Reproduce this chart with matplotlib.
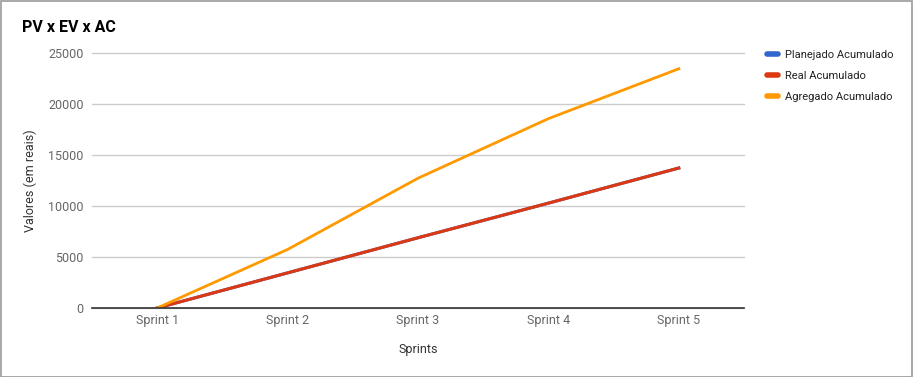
import matplotlib
matplotlib.use("Agg")
import matplotlib.pyplot as plt
from matplotlib.patches import Rectangle

sprints = ["Sprint 1", "Sprint 2", "Sprint 3", "Sprint 4", "Sprint 5"]
planejado = [0, 3450, 6900, 10300, 13750]
real = [0, 3450, 6900, 10300, 13750]
agregado = [0, 5750, 12750, 18600, 23500]
yticks = [0, 5000, 10000, 15000, 20000, 25000]

plt.rcParams['font.family'] = ['Roboto', 'DejaVu Sans']

W, H = 913, 377
fig = plt.figure(figsize=(W / 100, H / 100), dpi=100)
ax = fig.add_axes([92 / W, 1 - 308 / H, (744 - 92) / W, (308 - 53.5) / H])

x = list(range(len(sprints)))
ax.plot(x, planejado, color="#3366cc", lw=2.2, label="Planejado Acumulado", zorder=3)
ax.plot(x, real, color="#dc3912", lw=2.2, label="Real Acumulado", zorder=4)
ax.plot(x, agregado, color="#ff9900", lw=2.0, label="Agregado Acumulado", zorder=5)

ax.set_xlim(-0.5, len(sprints) - 0.5)
ax.set_ylim(0, 25000)
ax.set_yticks(yticks)
ax.set_yticklabels([str(v) for v in yticks])
ax.set_xticks(x)
ax.set_xticklabels(sprints)
ax.grid(axis="y", color="#cccccc", lw=1)
for gl in ax.get_ygridlines():
    gl.set_clip_on(False)
ax.set_axisbelow(True)
for s in ["top", "right", "left"]:
    ax.spines[s].set_visible(False)
ax.spines["bottom"].set_color("#333333")
ax.spines["bottom"].set_linewidth(1.2)
ax.spines["bottom"].set_zorder(6)
ax.tick_params(length=0, labelsize=9, colors="#666666", pad=6)
ax.tick_params(axis="x", pad=4)

ax.set_xlabel("Sprints", fontsize=9, color="#333333", labelpad=12)
ax.set_ylabel("Valores (em reais)", fontsize=9, color="#333333", labelpad=8)

fig.text(22 / W, 1 - 28 / H, "PV x EV x AC", fontsize=11.5, fontweight="bold", color="#000000", va="center", ha="left")

leg = ax.legend(loc="upper left", bbox_to_anchor=(757 / W, 1 - 40 / H), bbox_transform=fig.transFigure,
                frameon=False, fontsize=8, handlelength=1.0, handletextpad=0.6, labelspacing=1.0)
for line in leg.get_lines():
    line.set_linewidth(4)
    line.set_solid_capstyle("round")
for t in leg.get_texts():
    t.set_color("#222222")

fig.patches.append(Rectangle((0.5 / W, 0.5 / H), 1 - 1.5 / W, 1 - 1.5 / H, transform=fig.transFigure,
                             fill=False, edgecolor="#999999", lw=1.2))

fig.savefig("out.png", dpi=100)
